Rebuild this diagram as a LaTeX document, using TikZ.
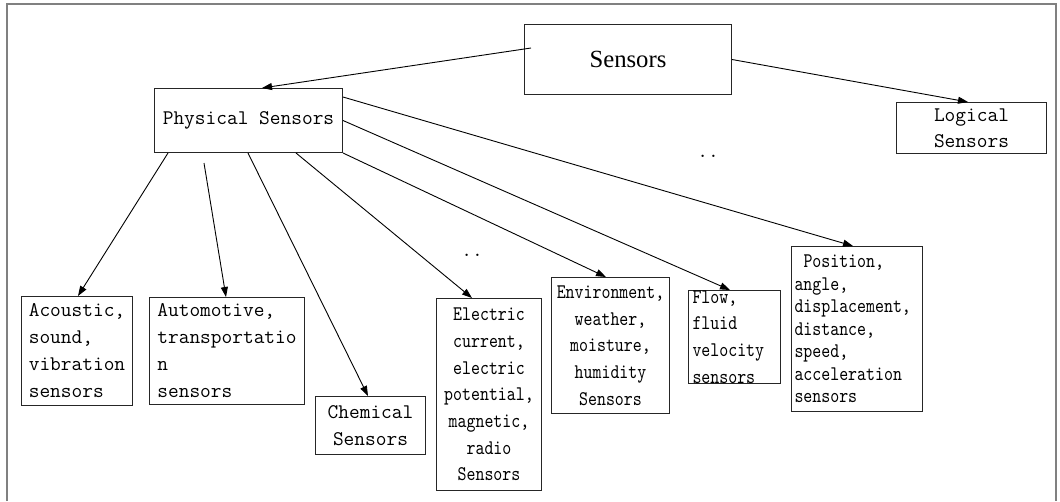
\documentclass[tikz,border=0pt]{standalone}
\usepackage{fontspec}
\newfontfamily\serfont{Liberation Serif}
\newfontfamily\narrowtt[FakeStretch=0.82]{lmmono10-regular.otf}
\usetikzlibrary{arrows.meta}

\newcommand{\bigtt}{\ttfamily\fontsize{20.8}{27}\selectfont}
\newcommand{\smtt}{\narrowtt\fontsize{20.8}{26.7}\selectfont}

\tikzstyle{block} = [rectangle, draw=black!85, line width=1pt, inner sep=0pt, anchor=north west, align=center, font=\bigtt]
\tikzstyle{narrow} = [block, font=\smtt]
\tikzstyle{arrow} = [line width=0.9pt, -{Triangle[length=10pt,width=7pt]}]
\tikzstyle{frame} = [draw=black!50, line width=1.2pt]

\begin{document}
\begin{tikzpicture}[x=1pt, y=-1pt]
\useasboundingbox (0,0) rectangle (1060,501);

% open frame
\draw [frame] (7,501) -- (7,4) -- (1056,4) -- (1056,501);

% top levels
\node (sens) [block, minimum width=207pt, minimum height=70pt, font=\serfont\fontsize{24.7}{30}\selectfont] at (524,24) {Sensors};
\node (phys) [block, minimum width=188pt, minimum height=64pt] at (154,88) {Physical Sensors};
\node (logi) [block, minimum width=150pt, minimum height=51pt, font=\ttfamily\fontsize{20.8}{26}\selectfont] at (896,102) {Logical\\Sensors};

% kinds of physical sensors
\node (aco) [block, align=left, minimum width=111pt, minimum height=109pt] at (21,296) {Acoustic,\\sound,\\vibration\\sensors};
\node (auto) [block, align=left, minimum width=155pt, minimum height=107pt] at (149,297) {Automotive,\\transportatio\\n\\sensors};
\node (chem) [block, minimum width=110pt, minimum height=58pt] at (315,396) {Chemical\\Sensors};
\node (elec) [narrow, minimum width=105pt, minimum height=192pt] at (436,298) {Electric\\current,\\electric\\potential,\\magnetic,\\radio\\Sensors};
\node (env) [narrow, minimum width=118pt, minimum height=136pt] at (551,277) {Environment,\\weather,\\moisture,\\humidity\\Sensors};
\node (flow) [narrow, align=left, inner xsep=4pt, text width=84pt, minimum width=92pt, minimum height=89pt] at (688,290) {Flow,\\fluid\\velocity\\sensors};
\node (pos) [narrow, align=left, inner xsep=3pt, text width=125pt, minimum width=131pt, minimum height=165pt, font=\narrowtt\fontsize{20.8}{22.5}\selectfont] at (791,246) {\hspace*{9pt}Position,\\angle,\\displacement,\\distance,\\speed,\\acceleration\\sensors};

\node (dots1) [anchor=base, inner sep=0pt, font=\bigtt] at (472,256) {..};
\node (dots2) [anchor=base, inner sep=0pt, font=\bigtt] at (708,157) {..};

\draw [arrow] ([xshift=7pt,yshift=-24pt]sens.north west) -- ([xshift=108pt]phys.north west);
\draw [arrow] (sens.east) -- ([xshift=72pt]logi.north west);
\draw [arrow] ([xshift=14pt]phys.south west) -- ([xshift=57pt]aco.north west);
\draw [arrow] ([xshift=50pt,yshift=-10pt]phys.south west) -- ([xshift=77pt]auto.north west);
\draw [arrow] ([xshift=94pt]phys.south west) -- ([xshift=53pt]chem.north west);
\draw [arrow] ([xshift=142pt]phys.south west) -- ([xshift=36pt]elec.north west);
\draw [arrow] (phys.south east) -- ([xshift=55pt]env.north west);
\draw [arrow] (phys.east) -- ([xshift=42pt]flow.north west);
\draw [arrow] ([yshift=-9pt]phys.north east) -- ([xshift=62pt]pos.north west);
\end{tikzpicture}
\end{document}
